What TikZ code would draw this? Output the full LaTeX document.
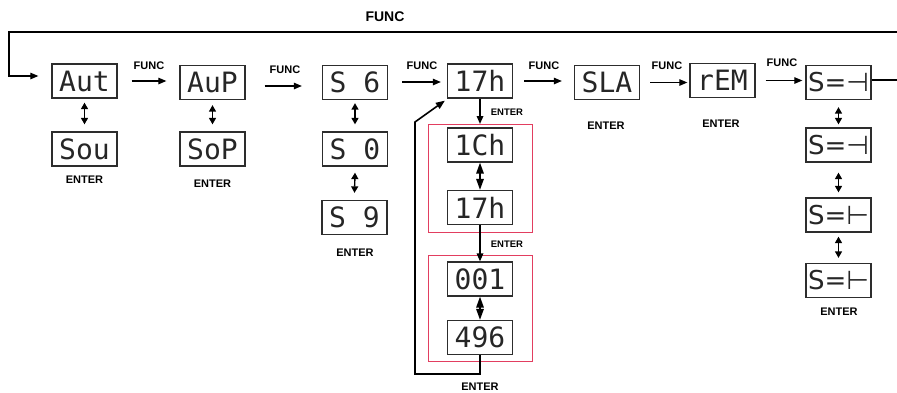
\documentclass[tikz,border=0pt]{standalone}
\usepackage{fontspec}
\setmainfont{Liberation Sans}
\newfontfamily\segfont{DejaVu Sans Mono}
\newfontfamily\symfont{DejaVu Sans}
\usetikzlibrary{arrows.meta}
\definecolor{redframe}{RGB}{226,62,96}
\definecolor{boxline}{RGB}{45,45,45}
\begin{document}
\begin{tikzpicture}[x=1pt,y=-1pt,
  disp/.style={draw=boxline,line width=1.3pt,minimum width=65pt,minimum height=34pt,inner sep=0pt,
    font=\segfont\fontsize{28}{28}\selectfont,text=black!85},
  dispsym/.style={disp,font=\symfont\fontsize{26}{26}\selectfont},
  lbl/.style={font=\bfseries\fontsize{11}{12}\selectfont,inner sep=0pt},
  slbl/.style={font=\bfseries\fontsize{9.5}{10}\selectfont,inner sep=0pt},
  flow/.style={line width=1.2pt,-{Triangle[length=8pt,width=6.5pt]}},
  dbl/.style={line width=1.4pt,{Triangle[length=6.5pt,width=7pt]}-{Triangle[length=6.5pt,width=7pt]}},
  bdbl/.style={line width=1.6pt,{Triangle[length=11pt,width=7.5pt]}-{Triangle[length=11pt,width=7.5pt]}},
  bflow/.style={line width=1.6pt,-{Triangle[length=8pt,width=6.5pt]}},
  frame/.style={draw=redframe,line width=1pt}]
\useasboundingbox (0,0) rectangle (897,392);
% display boxes
\node[disp] (aut) at (84.5,81) {Aut};
\node[disp] (sou) at (84.5,149) {Sou};
\node[disp] (aup) at (212.5,82.5) {AuP};
\node[disp] (sop) at (212.5,149) {SoP};
\node[disp] (s6) at (355,82.5) {S 6};
\node[disp] (s0) at (355,149) {S 0};
\node[disp] (s9) at (354.5,217.5) {S 9};
\node[disp] (h17) at (480,81) {17h};
\node[disp] (ch1) at (480,145) {1Ch};
\node[disp] (h17b) at (480,207.5) {17h};
\node[disp] (d001) at (480,279) {001};
\node[disp] (d496) at (480,337.5) {496};
\node[disp] (sla) at (607,82.5) {SLA};
\node[disp] (rem) at (722.5,80.5) {rEM};
\node[dispsym] (sa) at (838.5,82.5) {S=⊣};
\node[dispsym] (sb) at (838.5,145) {S=⊣};
\node[dispsym] (sc) at (838.5,215) {S=⊢};
\node[dispsym] (sd) at (838.5,280.5) {S=⊢};
% red frames
\draw[frame] (428,124) rectangle (532,232);
\draw[frame] (428,255) rectangle (532,361);
\coordinate (f1top) at (480,124);
% horizontal FUNC arrows
\draw[flow] ([xshift=14pt]aut.east) -- ([xshift=-13pt]aut.east -| aup.west);
\draw[flow] ([xshift=19pt,yshift=-3.5pt]aup.east) -- ([xshift=-20pt,yshift=-3.5pt]aup.east -| s6.west);
\draw[flow] ([xshift=14pt,yshift=0.5pt]s6.east) -- ([xshift=-6pt,yshift=0.5pt]s6.east -| h17.west);
\draw[flow] ([xshift=11pt]h17.east) -- ([xshift=-12pt]h17.east -| sla.west);
\draw[flow] ([xshift=10pt]sla.east) -- ([xshift=-2pt]sla.east -| rem.west);
\draw[flow] ([xshift=10pt]rem.east) -- ([xshift=-3pt]rem.east -| sa.west);
\node[lbl] (f1) at (149,66) {FUNC};
\node[lbl] (f2) at (285,70) {FUNC};
\node[lbl] (f3) at (422,66) {FUNC};
\node[lbl] (f4) at (544,66) {FUNC};
\node[lbl] (f5) at (667,66) {FUNC};
\node[lbl] (f6) at (782,63) {FUNC};
% top loop
\coordinate (tr) at (897,32);
\coordinate (tl) at (9,32);
\coordinate (sr) at (897,80);
\draw[flow] (tr) -- (tl) |- ([xshift=-13pt,yshift=5pt]aut.west);
\draw[line width=1.2pt] (sa.east |- sr) -- (sr);
\node[font=\bfseries\fontsize{14}{15}\selectfont,inner sep=0pt] (ftop) at (385,17) {FUNC};
% vertical double arrows
\draw[dbl] ([yshift=-4pt]aut.south) -- ([yshift=7pt]sou.north);
\draw[dbl] ([yshift=-5pt]aup.south) -- ([yshift=7pt]sop.north);
\draw[dbl] ([yshift=-3pt]s6.south) -- ([yshift=7pt]s0.north);
\draw[dbl] ([yshift=-6pt]s0.south) -- ([yshift=7pt]s9.north);
\draw[dbl] ([yshift=-7pt]sa.south) -- ([yshift=3pt]sb.north);
\draw[dbl] ([yshift=-10pt]sb.south) -- ([yshift=5pt]sc.north);
\draw[dbl] ([yshift=-4pt]sc.south) -- ([yshift=5pt]sd.north);
\draw[bdbl] (ch1.south) -- (h17b.north);
\draw[bdbl] (d001.south) -- (d496.north);
% ENTER arrows
\draw[bflow] (h17.south) -- (f1top);
\draw[bflow] (h17b.south) -- (d001.north);
\node[slbl] (e1) at (507,112) {ENTER};
\node[slbl] (e2) at (507,244) {ENTER};
% return loop
\coordinate (lb1) at (480,374);
\coordinate (lb2) at (415,374);
\coordinate (lb3) at (415,122);
\draw[line width=1.6pt,-{Triangle[length=9pt,width=7pt]}] (d496.south) -- (lb1) -- (lb2) -- (lb3) -- ([xshift=-2pt,yshift=-2pt]h17.south west);
\node[lbl] (e3) at (480,387) {ENTER};
% ENTER labels
\node[lbl] (en1) at (84.5,180) {ENTER};
\node[lbl] (en2) at (212.5,184) {ENTER};
\node[lbl] (en3) at (355,253) {ENTER};
\node[lbl] (en4) at (606,126) {ENTER};
\node[lbl] (en5) at (721,124) {ENTER};
\node[lbl] (en6) at (839,312) {ENTER};
\end{tikzpicture}
\end{document}
